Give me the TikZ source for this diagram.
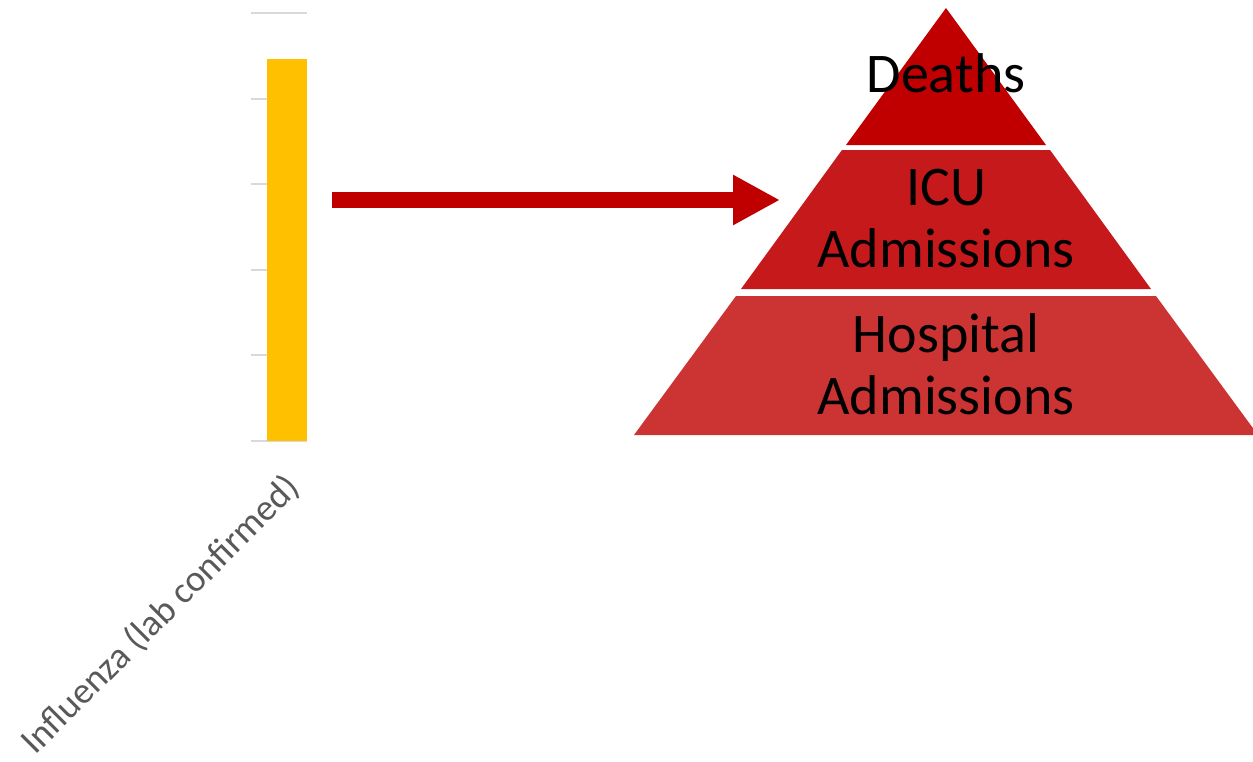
\documentclass[tikz,border=0pt]{standalone}
\usepackage{fontspec}
\setmainfont{Carlito}
\usetikzlibrary{arrows.meta,positioning}

\definecolor{barcol}{HTML}{FFC000}
\definecolor{gridcol}{HTML}{D9D9D9}
\definecolor{axistext}{HTML}{595959}
\definecolor{arrowcol}{HTML}{C00000}
\definecolor{tiertop}{HTML}{C00000}
\definecolor{tiermid}{HTML}{C5191B}
\definecolor{tierlow}{HTML}{CC3333}

\tikzset{
  tierlabel/.style={align=center,inner sep=0pt,text=black,
    font=\fontsize{56}{62}\selectfont},
  gridline/.style={gridcol,line width=2pt},
}

\begin{document}
\begin{tikzpicture}[x=1pt,y=-1pt]
      \useasboundingbox (0,0) rectangle (1253,761);

      % horizontal grid lines of the chart
      \foreach \gy in {13,98.6,184.2,269.8,355.4,441}
        \draw[gridline] (251,\gy) -- (307,\gy);

      % the single bar
      \fill[barcol] (267,59) rectangle (307,441);
      \coordinate (barfoot) at (294,482);

      % rotated category label
      \node[rotate=45,anchor=east,inner sep=0pt,text=axistext,
        font=\fontsize{37}{44}\selectfont] (flu) at (barfoot)
        {Influenza (lab confirmed)};

      % pyramid, three tiers
      \fill[tiertop] (946,8) -- (1046,145) -- (846,145) -- cycle;
      \fill[tiermid] (842,150) -- (1050,150) -- (1151,289) -- (741,289) -- cycle;
      \fill[tierlow] (736,296) -- (1156,296) -- (1258,435) -- (634,435) -- cycle;

      \node[tierlabel] (deaths) at (946,73) {Deaths};
      \node[tierlabel] (icu) at (946,219) {ICU\\Admissions};
      \node[tierlabel] (hosp) at (946,364) {Hospital\\Admissions};

      % big arrow towards the pyramid
      \coordinate (arrowfrom) at (332,200);
      \coordinate (arrowto) at (780,200);
      \draw[arrowcol,line width=16pt,
        -{Triangle[length=47pt,width=47pt]}] (arrowfrom) -- (arrowto);
\end{tikzpicture}
\end{document}
